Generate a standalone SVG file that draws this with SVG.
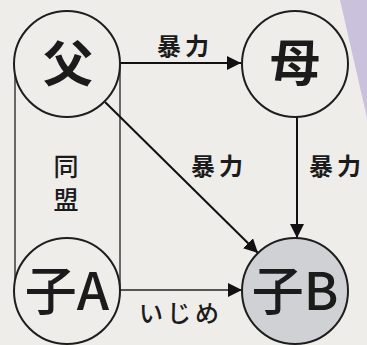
<svg xmlns="http://www.w3.org/2000/svg" width="367" height="345" viewBox="0 0 367 345">
<style>
.node{stroke:#1e1e1e;stroke-width:2;fill:#efedea}
.nl{font-family:"Noto Sans CJK JP","Noto Sans",sans-serif;fill:#1b1b1b;text-anchor:middle}
.big{font-size:50px;font-weight:700}
.kid{font-size:52px;font-weight:500}
.lab{font-family:"Noto Sans CJK JP","Noto Sans",sans-serif;fill:#1b1b1b;font-size:24px;font-weight:700;text-anchor:middle;letter-spacing:4px}
.ed{stroke:#111;stroke-width:2;fill:none}
.thin{stroke:#222;stroke-width:1.3;fill:none}
</style>
<defs>
<marker id="ah" markerUnits="userSpaceOnUse" markerWidth="14" markerHeight="14" viewBox="0 0 14 14" refX="14" refY="7" orient="auto">
<path d="M0,0 L14,7 L0,14 Z" fill="#111"/>
</marker>
</defs>
<rect width="367" height="345" fill="#efedea"/>
<polygon points="340,0 367,0 367,118" fill="#cac2dc"/>
<g id="connectors">
<rect x="15" y="64" width="105" height="226" class="thin"/>
<line x1="120" y1="63" x2="241" y2="63" class="ed" marker-end="url(#ah)"/>
<line x1="105" y1="102" x2="258" y2="253" class="ed" marker-end="url(#ah)"/>
<line x1="297" y1="117" x2="297" y2="238" class="ed" marker-end="url(#ah)"/>
<line x1="120" y1="290" x2="242" y2="290" class="thin" stroke-width="1.6" marker-end="url(#ah)"/>
<text class="lab" x="185" y="55">暴力</text>
<text class="lab" x="219" y="175">暴力</text>
<text class="lab" x="337" y="175">暴力</text>
<text class="lab" x="66" y="176" style="font-weight:500;font-size:25px;letter-spacing:0">同</text>
<text class="lab" x="66" y="209" style="font-weight:500;font-size:25px;letter-spacing:0">盟</text>
<text class="lab" x="181" y="322" style="font-weight:500;font-size:24px;letter-spacing:4px">いじめ</text>
</g>
<g id="father">
<circle cx="67" cy="64" r="53" class="node"/>
<text class="nl big" x="68" y="82">父</text>
</g>
<g id="mother">
<circle cx="295" cy="64" r="53" class="node"/>
<text class="nl big" x="295" y="81">母</text>
</g>
<g id="childA">
<circle cx="67" cy="291" r="53" class="node"/>
<text class="nl kid" x="67" y="310">子A</text>
</g>
<g id="childB">
<circle cx="295" cy="291" r="53" class="node" style="fill:#cfd1d4"/>
<text class="nl kid" x="295" y="310">子B</text>
</g>
</svg>
